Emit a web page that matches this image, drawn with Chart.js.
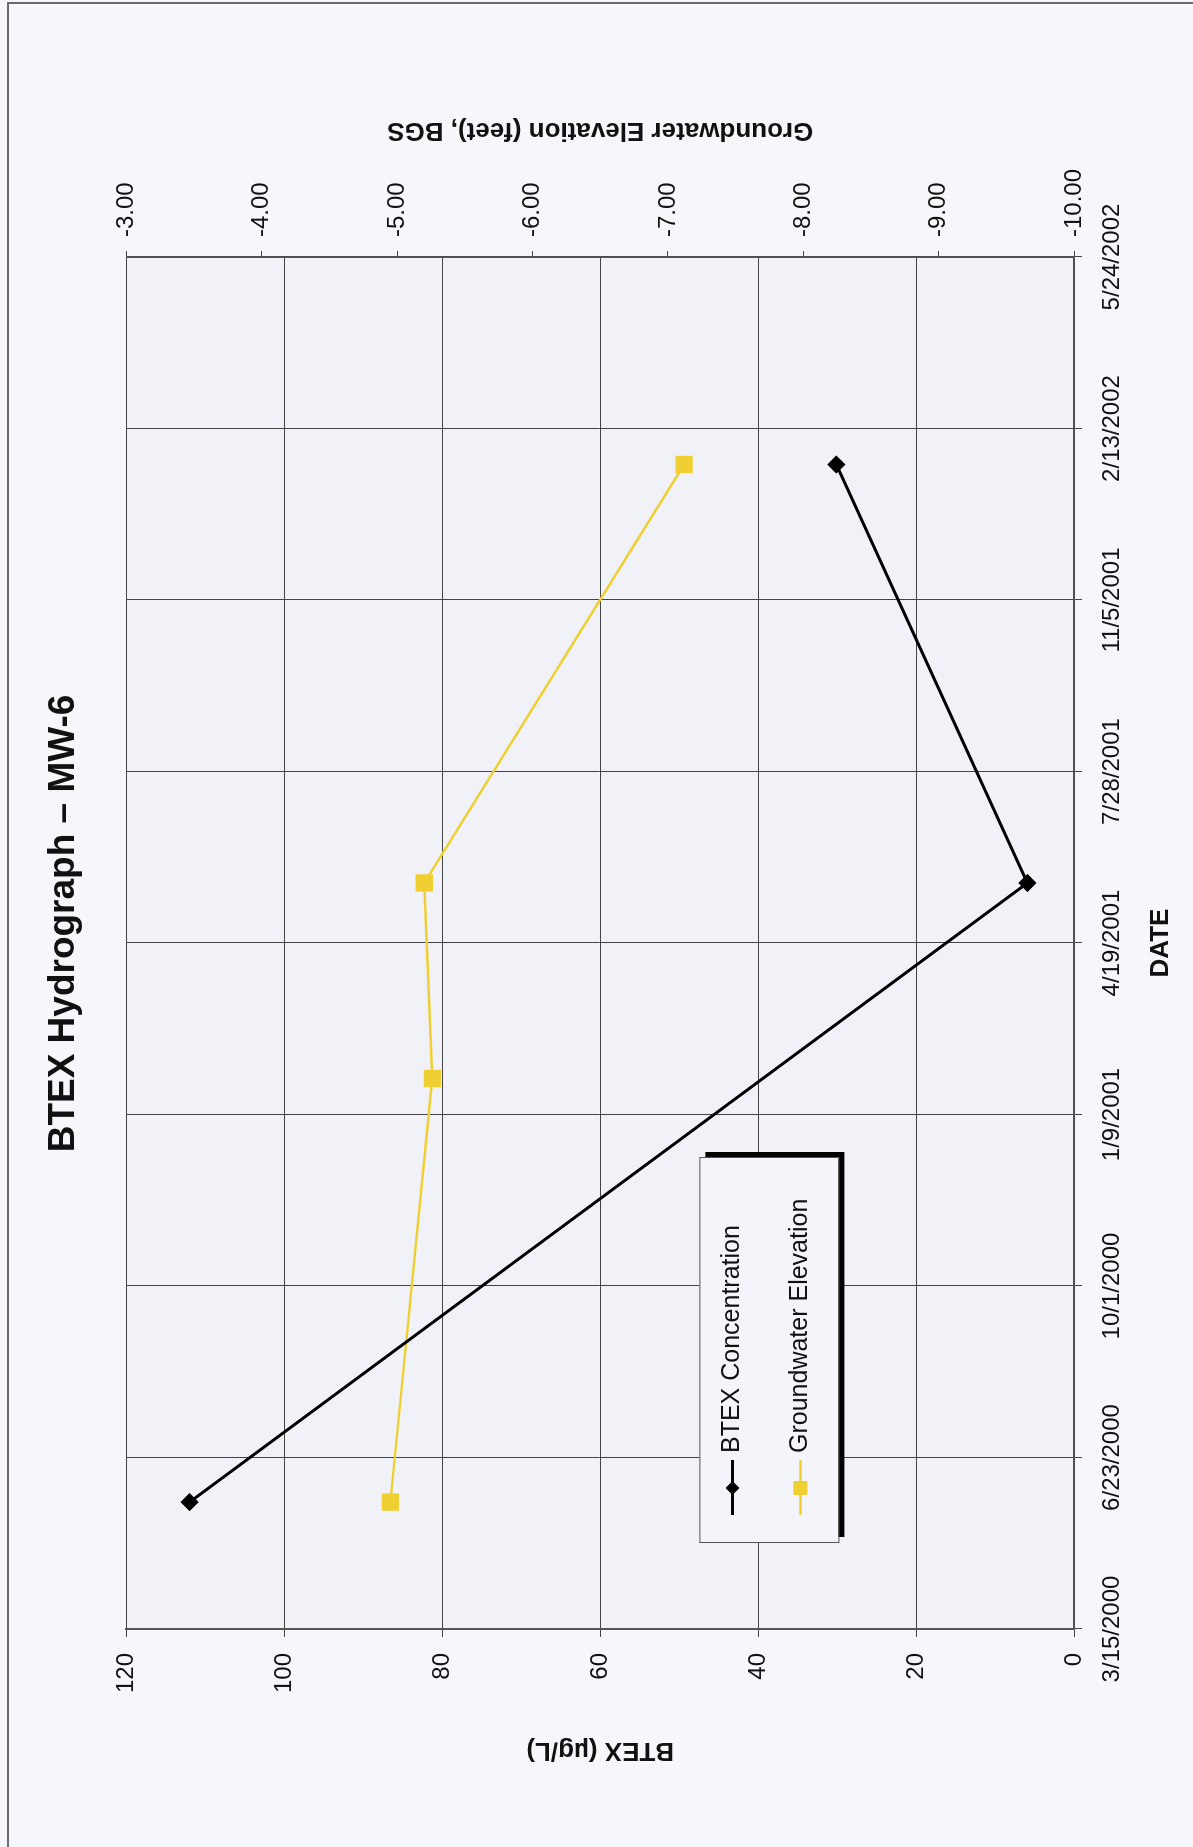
<!doctype html>
<html>
  <head>
    <title>BTEX Hydrograph - MW-6</title>
    <meta charset="UTF-8">
    <script src="https://cdn.jsdelivr.net/npm/chart.js"></script>
    <style>
      html, body { margin: 0; padding: 0; }
      body { width: 1193px; height: 1847px; overflow: hidden; background: #f5f7fb; position: relative; }
      #frame { position: absolute; left: 7px; top: 2px; width: 1300px; height: 1900px;
               border-left: 2px solid #6a6a6a; border-top: 2px solid #6a6a6a; }
      #wrap { position: absolute; left: 0; top: 0; width: 1847px; height: 1193px;
              transform-origin: 0 0; transform: translateY(1847px) rotate(-90deg); }
    </style>
  </head>
  <body>
    <div id="frame"></div>
    <div id="wrap">
      <canvas id="hydro" width="1847" height="1193"></canvas>
    </div>
    <script>
      // sampling dates and readings
      const sampleDates = ['5/28/2000', '1/30/2001', '5/24/2001', '1/23/2002'];
      const btex = [112.0, null, 5.9, 30.1];
      const groundwater = [-4.95, -5.26, -5.20, -7.12];

      const dateTicks = ['3/15/2000', '6/23/2000', '10/1/2000', '1/9/2001', '4/19/2001',
                         '7/28/2001', '11/5/2001', '2/13/2002', '5/24/2002'];
      const btexTicks = [0, 20, 40, 60, 80, 100, 120];
      const gwTicks = [-10, -9, -8, -7, -6, -5, -4, -3];

      function toDay(s) {
        const [m, d, y] = s.split('/').map(Number);
        return Date.UTC(y, m - 1, d) / 86400000;
      }

      const FONT = "'Liberation Sans', Arial, sans-serif";

      const plotBackground = {
        id: 'plotBackground',
        beforeDraw(chart) {
          const { ctx, chartArea: a } = chart;
          ctx.save();
          ctx.fillStyle = '#f0f2f8';
          ctx.fillRect(a.left, a.top, a.right - a.left, a.bottom - a.top);
          ctx.restore();
        }
      };

      // right axis title reads bottom-to-top like the left one
      const rightTitle = {
        id: 'rightTitle',
        afterDraw(chart) {
          const { ctx, chartArea: a } = chart;
          const s = chart.scales.y2;
          ctx.save();
          ctx.translate(s.right - 130, (a.top + a.bottom) / 2);
          ctx.rotate(-Math.PI / 2);
          ctx.font = 'bold 26px ' + FONT;
          ctx.fillStyle = '#111';
          ctx.textAlign = 'center';
          ctx.textBaseline = 'middle';
          ctx.fillText('Groundwater Elevation (feet), BGS', 0, 0);
          ctx.restore();
        }
      };

      const boxLegend = {
        id: 'boxLegend',
        afterDraw(chart) {
          const { ctx, chartArea: a } = chart;
          const x = a.left + 86, y = a.top + 573, w = 385, h = 139;
          ctx.save();
          ctx.fillStyle = '#000';
          ctx.fillRect(x + 6, y + 6, w, h);
          ctx.fillStyle = '#f3f5fa';
          ctx.fillRect(x, y, w, h);
          ctx.strokeStyle = '#555';
          ctx.lineWidth = 1;
          ctx.strokeRect(x + 0.5, y + 0.5, w, h);
          ctx.font = '25px ' + FONT;
          ctx.textBaseline = 'middle';
          chart.data.datasets.forEach((ds, i) => {
            const cy = y + 33 + i * 68;
            ctx.strokeStyle = ds.borderColor;
            ctx.lineWidth = ds.borderWidth;
            ctx.beginPath();
            ctx.moveTo(x + 28, cy);
            ctx.lineTo(x + 83, cy);
            ctx.stroke();
            ctx.fillStyle = ds.pointBackgroundColor;
            ctx.beginPath();
            if (ds.pointStyle === 'rectRot') {
              ctx.moveTo(x + 55, cy - 7);
              ctx.lineTo(x + 62, cy);
              ctx.lineTo(x + 55, cy + 7);
              ctx.lineTo(x + 48, cy);
              ctx.closePath();
            } else {
              ctx.rect(x + 48, cy - 7, 14, 14);
            }
            ctx.fill();
            ctx.fillStyle = '#111';
            ctx.fillText(ds.label, x + 90, cy);
          });
          ctx.restore();
        }
      };

      new Chart(document.getElementById('hydro'), {
        type: 'line',
        data: {
          datasets: [
            {
              label: 'BTEX Concentration',
              data: sampleDates.map((d, i) => ({ x: toDay(d), y: btex[i] })),
              yAxisID: 'y',
              borderColor: '#000',
              backgroundColor: '#000',
              pointBackgroundColor: '#000',
              pointBorderColor: '#000',
              borderWidth: 3,
              pointStyle: 'rectRot',
              pointRadius: 7,
              tension: 0,
              spanGaps: true
            },
            {
              label: 'Groundwater Elevation',
              data: sampleDates.map((d, i) => ({ x: toDay(d), y: groundwater[i] })),
              yAxisID: 'y2',
              borderColor: '#f0cf33',
              backgroundColor: '#f0cf33',
              pointBackgroundColor: '#f0cf33',
              pointBorderColor: '#f0cf33',
              borderWidth: 2.5,
              pointStyle: 'rect',
              pointRadius: 10.5,
              tension: 0
            }
          ]
        },
        options: {
          responsive: false,
          animation: false,
          devicePixelRatio: 1,
          layout: { padding: 0 },
          plugins: {
            legend: { display: false },
            tooltip: { enabled: false },
            title: {
              display: true,
              text: 'BTEX Hydrograph \u2013 MW-6',
              color: '#111',
              font: { family: FONT, size: 37, weight: 'bold', lineHeight: 1.2 },
              padding: { top: 42, bottom: 40 }
            }
          },
          scales: {
            x: {
              type: 'linear',
              min: toDay(dateTicks[0]),
              max: toDay(dateTicks[dateTicks.length - 1]),
              afterBuildTicks: s => { s.ticks = dateTicks.map(d => ({ value: toDay(d) })); },
              afterFit: s => { s.height = 119; },
              ticks: {
                maxRotation: 0,
                minRotation: 0,
                autoSkip: false,
                padding: 16,
                color: '#111',
                font: { family: FONT, size: 24 },
                callback: v => dateTicks.find(d => toDay(d) === v) || ''
              },
              grid: { color: '#444', lineWidth: 1, tickLength: 8, tickColor: '#444' },
              border: { color: '#555', width: 1.5 },
              title: {
                display: true,
                text: 'DATE',
                color: '#111',
                font: { family: FONT, size: 26, weight: 'bold', lineHeight: 1.2 },
                padding: { top: 0, bottom: 17 }
              }
            },
            y: {
              position: 'left',
              min: 0,
              max: 120,
              afterBuildTicks: s => { s.ticks = btexTicks.map(v => ({ value: v })); },
              afterFit: s => { s.width = 218; },
              ticks: {
                padding: 16,
                color: '#111',
                font: { family: FONT, size: 24 }
              },
              grid: { color: '#444', lineWidth: 1, tickLength: 8, tickColor: '#444' },
              border: { color: '#555', width: 2 },
              title: {
                display: true,
                text: 'BTEX (\u00b5g/L)',
                color: '#111',
                font: { family: FONT, size: 26, weight: 'bold', lineHeight: 1.2 },
                padding: { top: 81, bottom: 0 }
              }
            },
            y2: {
              position: 'right',
              min: -10,
              max: -3,
              afterBuildTicks: s => { s.ticks = gwTicks.map(v => ({ value: v })); },
              afterFit: s => { s.width = 257; },
              ticks: {
                padding: 14,
                color: '#111',
                font: { family: FONT, size: 24 },
                callback: v => v.toFixed(2)
              },
              grid: { drawOnChartArea: false, tickLength: 6, color: '#444', tickColor: '#444' },
              border: { color: '#555', width: 1.5 }
            }
          }
        },
        plugins: [plotBackground, rightTitle, boxLegend]
      });
    </script>
  </body>
</html>
